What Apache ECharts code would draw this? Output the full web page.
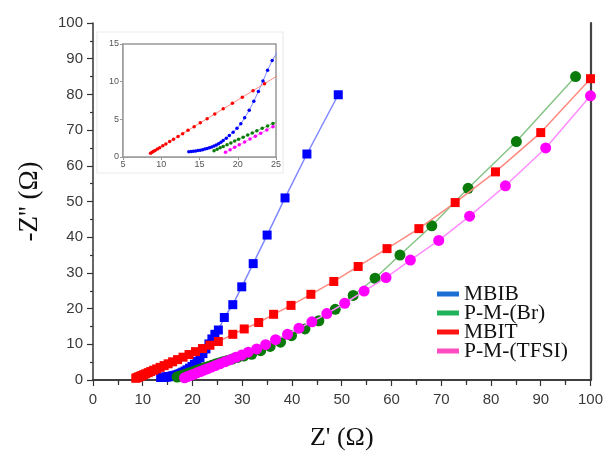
<!DOCTYPE html>
<html>
<head>
<meta charset="utf-8">
<script src="https://cdn.jsdelivr.net/npm/echarts@6/dist/echarts.min.js"></script>
<style>
  html, body { margin: 0; padding: 0; background: #fff; }
  #chart { width: 606px; height: 456px; }
</style>
</head>
<body>
<div id="chart"></div>
<script>
// Nyquist plot: Z' (real) vs -Z'' (imaginary), in ohms
const seriesNames = ['MBIB', 'P-M-(Br)', 'MBIT', 'P-M-(TFSI)'];

const mbibX = [13.6, 13.9, 14.2, 14.5, 14.8, 15.1, 15.4, 15.7, 16.0, 16.3, 16.6, 16.9, 17.2, 17.5, 17.8, 18.1, 18.5, 18.9, 19.4, 19.9, 20.4, 20.9, 21.5, 22.1, 22.7, 23.3, 23.9, 24.5, 25.2, 26.4, 28.1, 29.9, 32.2, 35.0, 38.6, 43.0, 49.3];
const mbibY = [0.70, 0.72, 0.75, 0.80, 0.85, 0.90, 0.97, 1.05, 1.13, 1.22, 1.33, 1.45, 1.60, 1.77, 1.97, 2.20, 2.50, 2.85, 3.30, 3.80, 4.40, 5.20, 6.20, 7.40, 8.70, 10.1, 11.5, 12.8, 14.0, 17.5, 21.1, 26.1, 32.6, 40.6, 51.0, 63.3, 79.9];

const pmBrX = [16.9, 17.3, 17.7, 18.1, 18.6, 19.1, 19.6, 20.1, 20.7, 21.3, 21.9, 22.5, 23.2, 23.9, 24.6, 25.3, 26.1, 27.0, 28.0, 29.0, 30.3, 31.9, 33.7, 35.6, 37.7, 39.9, 42.6, 45.4, 48.7, 52.3, 56.7, 61.7, 68.1, 75.4, 85.1, 97.0];
const pmBrY = [0.84, 1.03, 1.22, 1.40, 1.64, 1.87, 2.11, 2.34, 2.63, 2.91, 3.19, 3.47, 3.80, 4.13, 4.46, 4.79, 5.12, 5.48, 5.88, 6.28, 6.72, 7.2, 8.2, 9.4, 10.6, 12.4, 14.3, 16.6, 19.8, 23.7, 28.5, 35.0, 43.2, 53.7, 66.8, 85.0];

const mbitX = [8.6, 8.8, 9.0, 9.2, 9.5, 9.8, 10.2, 10.6, 11.1, 11.6, 12.2, 12.8, 13.5, 14.3, 15.1, 16.0, 17.0, 18.1, 19.3, 20.6, 22.0, 23.5, 25.2, 28.1, 30.4, 33.3, 36.3, 39.8, 43.8, 48.4, 53.3, 59.1, 65.5, 72.8, 80.9, 90.0, 100.0];
const mbitY = [0.50, 0.62, 0.75, 0.87, 1.06, 1.24, 1.49, 1.74, 2.05, 2.36, 2.73, 3.10, 3.54, 4.03, 4.53, 5.09, 5.71, 6.39, 7.13, 7.94, 8.81, 9.74, 10.79, 12.8, 14.3, 16.1, 18.4, 20.9, 24.0, 27.6, 31.8, 36.8, 42.4, 49.7, 58.3, 69.3, 84.4];

const pmTfsiX = [18.4, 19.0, 19.6, 20.2, 20.9, 21.6, 22.3, 23.0, 23.8, 24.6, 25.5, 26.5, 27.6, 28.7, 29.9, 31.2, 32.9, 34.7, 36.7, 39.1, 41.4, 44.0, 47.0, 50.6, 54.5, 58.9, 63.8, 69.5, 75.7, 82.9, 91.0, 100.0];
const pmTfsiY = [0.62, 0.95, 1.28, 1.61, 2.00, 2.38, 2.77, 3.15, 3.59, 4.03, 4.53, 5.1, 5.7, 6.35, 7.0, 7.8, 8.7, 9.9, 11.3, 12.8, 14.5, 16.3, 18.6, 21.5, 24.9, 28.7, 33.6, 39.1, 45.9, 54.4, 65.0, 79.6];

// main axes ticks
const mainTicksX = [0, 10, 20, 30, 40, 50, 60, 70, 80, 90, 100];
const mainTicksY = [0, 10, 20, 30, 40, 50, 60, 70, 80, 90, 100];
// inset axes ticks
const insetTicksX = [5, 10, 15, 20, 25];
const insetTicksY = [0, 5, 10, 15];

const pairs = (xs, ys) => xs.map((x, i) => [x, ys[i]]);

const styles = [
  { marker: '#0000ff', line: '#7f88ff', symbol: 'rect', size: 9, legend: '#1b6fd2' },
  { marker: '#0a7a0a', line: '#86c486', symbol: 'circle', size: 11, legend: '#1fb25a' },
  { marker: '#ff0000', line: '#ff8a80', symbol: 'rect', size: 9, legend: '#ff1414' },
  { marker: '#ff00ff', line: '#ff8cff', symbol: 'circle', size: 11, legend: '#ff4cc0' }
];
const dataSets = [
  pairs(mbibX, mbibY),
  pairs(pmBrX, pmBrY),
  pairs(mbitX, mbitY),
  pairs(pmTfsiX, pmTfsiY)
];

const axisGray = '#333';
const mainSeries = dataSets.map((d, i) => ({
  name: seriesNames[i],
  type: 'line',
  xAxisIndex: 0,
  yAxisIndex: 0,
  data: d,
  symbol: styles[i].symbol,
  symbolSize: styles[i].size,
  showAllSymbol: true,
  clip: true,
  lineStyle: { color: styles[i].line, width: 1.5 },
  itemStyle: { color: styles[i].marker, borderWidth: 0 },
  z: 3 + i,
  animation: false
}));
const insetSeries = dataSets.map((d, i) => ({
  name: seriesNames[i],
  type: 'line',
  xAxisIndex: 2,
  yAxisIndex: 2,
  data: d,
  symbol: 'circle',
  symbolSize: 3.5,
  showAllSymbol: true,
  clip: true,
  lineStyle: { color: styles[i].line, width: 1 },
  itemStyle: { color: styles[i].marker, borderWidth: 0 },
  z: 20 + i,
  animation: false
}));

const topTickCats = [];
for (let v = 0; v <= 100; v += 5) topTickCats.push(String(v));

const option = {
  backgroundColor: '#ffffff',
  animation: false,
  legend: {
    orient: 'vertical',
    left: 432,
    top: 278,
    itemWidth: 22,
    itemHeight: 5,
    itemGap: -3,
    textStyle: { fontFamily: 'Liberation Serif', fontSize: 21.5, color: '#111' },
    data: seriesNames.map((n, i) => ({ name: n, icon: 'rect', itemStyle: { color: styles[i].legend } }))
  },
  grid: [
    { left: 93, right: 15, top: 23, bottom: 72, show: false },
    { left: 123, top: 44, width: 153, height: 113, show: true, borderColor: '#999', borderWidth: 1.5, backgroundColor: '#fff', z: 10 }
  ],
  graphic: [
    { type: 'rect', shape: { x: 97, y: 32, width: 186, height: 141 }, style: { fill: 'none', stroke: '#ececec', lineWidth: 1.2 }, z: 9 }
  ],
  xAxis: [
    {
      gridIndex: 0, type: 'value', min: mainTicksX[0], max: mainTicksX[mainTicksX.length - 1], interval: 10,
      name: "Z' (Ω)", nameLocation: 'middle', nameGap: 45,
      nameTextStyle: { fontFamily: 'Liberation Serif', fontSize: 26, color: '#111' },
      axisLine: { show: true, onZero: false, lineStyle: { color: axisGray, width: 1.5 } },
      axisTick: { show: true, inside: false, length: 6, lineStyle: { color: axisGray, width: 1.2 } },
      minorTick: { show: true, splitNumber: 2, length: 3, lineStyle: { color: axisGray, width: 1.2 } },
      axisLabel: { fontFamily: 'Liberation Sans', fontSize: 15, color: '#3a3a3a', margin: 12,
        formatter: v => mainTicksX.includes(v) ? String(v) : '' },
      splitLine: { show: false }
    },
    {
      gridIndex: 0, type: 'category', position: 'top', data: topTickCats, boundaryGap: false,
      axisLine: { show: true, lineStyle: { color: axisGray, width: 1.5 } },
      axisTick: { show: true, inside: true, length: 5, interval: (idx) => idx % 2 === 1, lineStyle: { color: axisGray, width: 1.2 } },
      axisLabel: { show: false },
      splitLine: { show: false }
    },
    {
      gridIndex: 1, type: 'value', min: insetTicksX[0], max: insetTicksX[insetTicksX.length - 1], interval: 5,
      axisLine: { show: true, onZero: false, lineStyle: { color: '#999', width: 1.5 } },
      axisTick: { show: true, length: 3, lineStyle: { color: '#999' } },
      axisLabel: { fontFamily: 'Liberation Sans', fontSize: 9, color: '#555', margin: 3 },
      splitLine: { show: false }
    }
  ],
  yAxis: [
    {
      gridIndex: 0, type: 'value', min: mainTicksY[0], max: mainTicksY[mainTicksY.length - 1], interval: 10,
      name: "-Z'' (Ω)", nameLocation: 'middle', nameGap: 50,
      nameTextStyle: { fontFamily: 'Liberation Serif', fontSize: 27, color: '#111' },
      axisLine: { show: true, onZero: false, lineStyle: { color: axisGray, width: 1.5 } },
      axisTick: { show: true, inside: false, length: 6, lineStyle: { color: axisGray, width: 1.2 } },
      minorTick: { show: true, splitNumber: 2, length: 3, lineStyle: { color: axisGray, width: 1.2 } },
      axisLabel: { fontFamily: 'Liberation Sans', fontSize: 15, color: '#3a3a3a', margin: 10 },
      splitLine: { show: false }
    },
    {
      gridIndex: 0, type: 'value', position: 'right', min: 0, max: 100, interval: 10,
      axisLine: { show: true, onZero: false, lineStyle: { color: '#444', width: 2.2 } },
      axisTick: { show: false }, axisLabel: { show: false }, splitLine: { show: false }
    },
    {
      gridIndex: 1, type: 'value', min: insetTicksY[0], max: insetTicksY[insetTicksY.length - 1], interval: 5,
      axisLine: { show: true, onZero: false, lineStyle: { color: '#999', width: 1.5 } },
      axisTick: { show: true, length: 3, lineStyle: { color: '#999' } },
      axisLabel: { fontFamily: 'Liberation Sans', fontSize: 9, color: '#555', margin: 4 },
      splitLine: { show: false }
    }
  ],
  series: mainSeries.concat(insetSeries)
};

const chart = echarts.init(document.getElementById('chart'), null, { renderer: 'canvas' });
chart.setOption(option);
</script>
</body>
</html>
